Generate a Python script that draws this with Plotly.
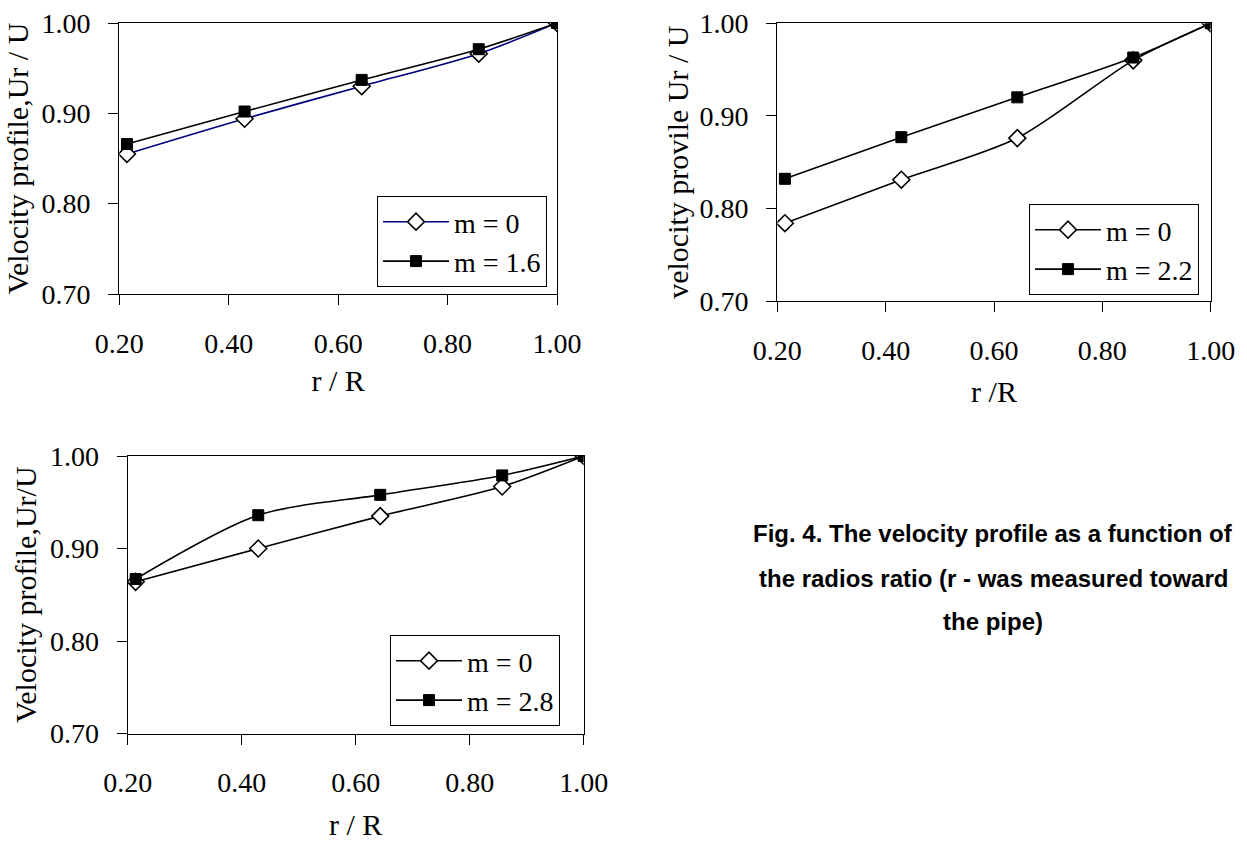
import plotly.graph_objects as go

W, H = 1247, 841

# ---- data ----
r_over_R = [0.214, 0.429, 0.643, 0.857, 1.000]
p1_m0 = [0.855, 0.894, 0.930, 0.966, 1.000]
p1_m16 = [0.866, 0.902, 0.937, 0.971, 1.000]
p2_m0 = [0.784, 0.831, 0.876, 0.960, 1.000]
p2_m22 = [0.832, 0.877, 0.920, 0.963, 1.000]
p3_m0 = [0.864, 0.900, 0.935, 0.967, 1.000]
p3_m28 = [0.867, 0.936, 0.958, 0.979, 1.000]

labels1 = ["m = 0", "m = 1.6"]
labels2 = ["m = 0", "m = 2.2"]
labels3 = ["m = 0", "m = 2.8"]

x_title1, y_title1 = "r / R", "Velocity profile,Ur / U"
x_title2, y_title2 = "r /R", "velocity provile Ur / U"
x_title3, y_title3 = "r / R", "Velocity profile,Ur/U"

caption = [
    "Fig. 4. The velocity profile as a function of",
    "the radios ratio (r - was measured toward",
    "the pipe)",
]

SERIF = "Liberation Serif, Times New Roman, serif"
SANS = "Liberation Sans, Arial, sans-serif"
FS = 28
FT = 30


def px_x(p):
    return p / W


def px_y(p):
    return 1 - p / H


fig = go.Figure()


def add_pair(xa, ya, leg, y0, y1, labs, line0color):
    fig.add_trace(go.Scatter(
        x=r_over_R, y=y0, name=labs[0], xaxis=xa, yaxis=ya, legend=leg,
        mode="lines+markers",
        line=dict(color=line0color, width=1.6, shape="spline", smoothing=0.8),
        marker=dict(symbol="diamond", size=13, color="white",
                    line=dict(color="black", width=1.6)),
    ))
    fig.add_trace(go.Scatter(
        x=r_over_R, y=y1, name=labs[1], xaxis=xa, yaxis=ya, legend=leg,
        mode="lines+markers",
        line=dict(color="black", width=1.6, shape="spline", smoothing=0.8),
        marker=dict(symbol="square", size=11, color="black",
                    line=dict(color="black", width=1)),
    ))


add_pair("x", "y", "legend", p1_m0, p1_m16, labels1, "#000080")
add_pair("x2", "y2", "legend2", p2_m0, p2_m22, labels2, "black")
add_pair("x3", "y3", "legend3", p3_m0, p3_m28, labels3, "black")


def xaxis(dom, anchor, title, standoff):
    return dict(
        domain=dom, anchor=anchor, range=[0.2, 1.0], dtick=0.2, tick0=0.2,
        tickformat=".2f", showgrid=False, zeroline=False,
        showline=True, linecolor="black", linewidth=1.3, mirror=True,
        ticks="outside", ticklen=10, tickcolor="black", tickwidth=1,
        ticklabelstandoff=14,
        tickfont=dict(family=SERIF, size=FS, color="black"),
        title=dict(text=title, font=dict(family=SERIF, size=FT, color="black"),
                   standoff=standoff),
        automargin=False,
    )


def yaxis(dom, anchor, title, standoff):
    return dict(
        domain=dom, anchor=anchor, range=[0.70, 1.00], dtick=0.1, tick0=0.7,
        tickformat=".2f", showgrid=False, zeroline=False,
        showline=True, linecolor="black", linewidth=1.3, mirror=True,
        ticks="outside", ticklen=10, tickcolor="black", tickwidth=1,
        ticklabelstandoff=12,
        tickfont=dict(family=SERIF, size=FS, color="black"),
        title=dict(text=title, font=dict(family=SERIF, size=FT, color="black"),
                   standoff=standoff),
        automargin=False,
    )


def legend(x0, y1):
    return dict(
        x=px_x(x0), y=px_y(y1), xanchor="left", yanchor="bottom",
        bgcolor="white", bordercolor="black", borderwidth=1,
        font=dict(family=SERIF, size=FS, color="black"),
        tracegroupgap=0, itemwidth=66,
    )


annotations = []
for txt, cy in zip(caption, [533, 578, 621]):
    annotations.append(dict(
        text=f"<b>{txt}</b>", x=px_x(993), y=px_y(cy), xref="paper", yref="paper",
        xanchor="center", yanchor="middle", showarrow=False,
        font=dict(family=SANS, size=24, color="black"),
    ))

fig.update_layout(
    width=W, height=H,
    margin=dict(l=0, r=0, t=0, b=0),
    paper_bgcolor="white", plot_bgcolor="white",
    showlegend=True,
    xaxis=xaxis([px_x(119.3), px_x(557)], "y", x_title1, 12),
    yaxis=yaxis([px_y(294), px_y(23)], "x", y_title1, 4),
    xaxis2=xaxis([px_x(777.3), px_x(1210.7)], "y2", x_title2, 16),
    yaxis2=yaxis([px_y(301), px_y(23.3)], "x2", y_title2, 2),
    xaxis3=xaxis([px_x(127.7), px_x(583.7)], "y3", x_title3, 18),
    yaxis3=yaxis([px_y(733.5), px_y(456)], "x3", y_title3, 4),
    legend=legend(377, 287),
    legend2=legend(1029, 295),
    legend3=legend(390, 726),
    annotations=annotations,
)

fig.write_html("out.html", config={"displayModeBar": False},
               post_script="document.body.style.margin='0';")
